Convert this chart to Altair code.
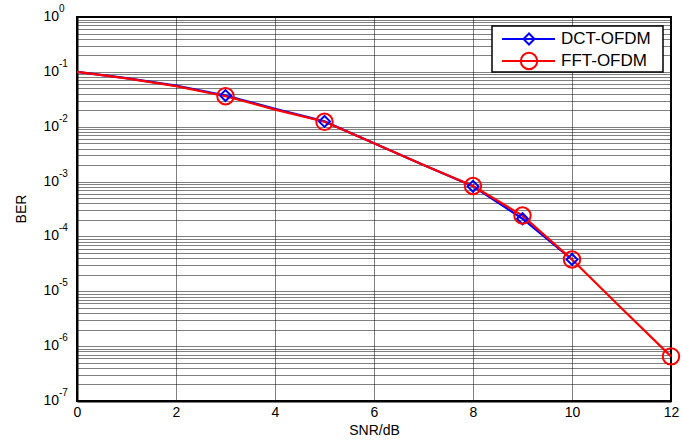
import altair as alt
import pandas as pd

# ---- data ----
snr = [0, 1, 2, 3, 4, 5, 6, 7, 8, 9, 10, 11, 12]
fft_ber = [0.1, 0.076, 0.055, 0.036, 0.0205, 0.0123, 0.0050, 0.0020,
           0.00083, 0.00024, 3.8e-5, 4.9e-6, 6.5e-7]
dct_snr = [0, 1, 2, 3, 4, 5, 6, 7, 8, 9, 10]
dct_ber = [0.1, 0.077, 0.056, 0.037, 0.0212, 0.0125, 0.0050, 0.0020,
           0.00082, 0.00021, 3.8e-5]
dct_marker_snr = [3, 5, 8, 9, 10]
fft_marker_snr = [3, 5, 8, 9, 10, 12]
x_ticks = [0, 2, 4, 6, 8, 10, 12]
decade_exps = [0, -1, -2, -3, -4, -5, -6, -7]
series_names = ["DCT-OFDM", "FFT-OFDM"]

y_values = [m * 10.0 ** e for e in range(-7, 0) for m in range(1, 10)] + [1.0]

dct_df = pd.DataFrame({"snr": dct_snr, "ber": dct_ber})
fft_df = pd.DataFrame({"snr": snr, "ber": fft_ber})
dct_mk = pd.DataFrame({"snr": [s for s, b in zip(dct_snr, dct_ber) if s in dct_marker_snr],
                       "ber": [b for s, b in zip(dct_snr, dct_ber) if s in dct_marker_snr]})
fft_mk = pd.DataFrame({"snr": [s for s, b in zip(snr, fft_ber) if s in fft_marker_snr],
                       "ber": [b for s, b in zip(snr, fft_ber) if s in fft_marker_snr]})
dec_df = pd.DataFrame({"ber": [10.0 ** e for e in decade_exps],
                       "exp": [str(e) for e in decade_exps]})
one = pd.DataFrame({"a": [0]})

FONT = "Liberation Sans"
W, H = 594, 384
GRID = dict(grid=True, gridDash=[1, 1], gridColor="#000000", gridOpacity=1, gridWidth=1)

xs = alt.X("snr:Q", scale=alt.Scale(domain=[0, 12], nice=False),
           axis=alt.Axis(values=x_ticks, title="SNR/dB", format="d", labelFlush=False,
                         ticks=False, labelPadding=4, labelFontSize=14, labelFont=FONT,
                         labelColor="black", titleFont=FONT, titleFontSize=14,
                         titleFontWeight="normal", titleColor="black", titlePadding=4,
                         domainColor="black", domainWidth=2, **GRID))
ys = alt.Y("ber:Q", scale=alt.Scale(type="log", domain=[1e-7, 1], nice=False),
           axis=alt.Axis(values=y_values, labels=False, ticks=False, title=None,
                         domainColor="black", domainWidth=2, **GRID))

base_blue = "#0000ff"
base_red = "#ff0000"
DSIZE, CSIZE = 120, 270

dct_line = alt.Chart(dct_df).mark_line(color=base_blue, strokeWidth=2.2).encode(x=xs, y=ys)
fft_line = alt.Chart(fft_df).mark_line(color=base_red, strokeWidth=2.2).encode(x=xs, y=ys)
dct_pts = alt.Chart(dct_mk).mark_point(shape="diamond", filled=False, color=base_blue,
                                       strokeWidth=2, size=DSIZE, opacity=1).encode(x=xs, y=ys)
fft_pts = alt.Chart(fft_mk).mark_point(shape="circle", filled=False, color=base_red,
                                       strokeWidth=2, size=CSIZE, opacity=1).encode(x=xs, y=ys)

yl = alt.Y("ber:Q", scale=alt.Scale(type="log", domain=[1e-7, 1], nice=False))
lab10 = alt.Chart(dec_df).mark_text(align="right", baseline="middle", font=FONT,
                                    fontSize=14, color="black").encode(
    x=alt.value(-18), y=yl, text=alt.value("10"))
labexp = alt.Chart(dec_df).mark_text(align="left", baseline="middle", font=FONT,
                                     fontSize=10, color="black", dy=-8).encode(
    x=alt.value(-18), y=yl, text="exp:N")
ytitle = alt.Chart(one).mark_text(angle=270, align="center", baseline="middle", font=FONT,
                                  fontSize=14, color="black").encode(
    x=alt.value(-55), y=alt.value(H / 2), text=alt.value("BER"))

# legend box
lx0, lx1, ly0, ly1 = 415, 586, 9, 55
leg_box = alt.Chart(one).mark_rect(fill="white", stroke="black", strokeWidth=1.5).encode(
    x=alt.value(lx0), x2=alt.value(lx1), y=alt.value(ly0), y2=alt.value(ly1))
leg_l1 = alt.Chart(one).mark_rule(color=base_blue, strokeWidth=2.2).encode(
    x=alt.value(425), x2=alt.value(478), y=alt.value(22))
leg_l2 = alt.Chart(one).mark_rule(color=base_red, strokeWidth=2.2).encode(
    x=alt.value(425), x2=alt.value(478), y=alt.value(44))
leg_p1 = alt.Chart(one).mark_point(shape="diamond", filled=False, color=base_blue,
                                   strokeWidth=2, size=DSIZE, opacity=1).encode(
    x=alt.value(452), y=alt.value(22))
leg_p2 = alt.Chart(one).mark_point(shape="circle", filled=False, color=base_red,
                                   strokeWidth=2, size=CSIZE, opacity=1).encode(
    x=alt.value(452), y=alt.value(44))
leg_t1 = alt.Chart(one).mark_text(align="left", baseline="middle", font=FONT, fontSize=17,
                                  color="black").encode(
    x=alt.value(484), y=alt.value(22), text=alt.value(series_names[0]))
leg_t2 = alt.Chart(one).mark_text(align="left", baseline="middle", font=FONT, fontSize=17,
                                  color="black").encode(
    x=alt.value(484), y=alt.value(44), text=alt.value(series_names[1]))

chart = alt.layer(
    dct_line, fft_line, dct_pts, fft_pts, lab10, labexp, ytitle,
    leg_box, leg_l1, leg_l2, leg_p1, leg_p2, leg_t1, leg_t2
).properties(
    width=W, height=H,
    padding={"left": 77, "top": 17, "right": 11, "bottom": 44},
    autosize=alt.AutoSizeParams(type="none"),
    background="white",
).configure_view(stroke="black", strokeWidth=2)

chart.save("out.html", embed_options={"renderer": "svg", "actions": False})
